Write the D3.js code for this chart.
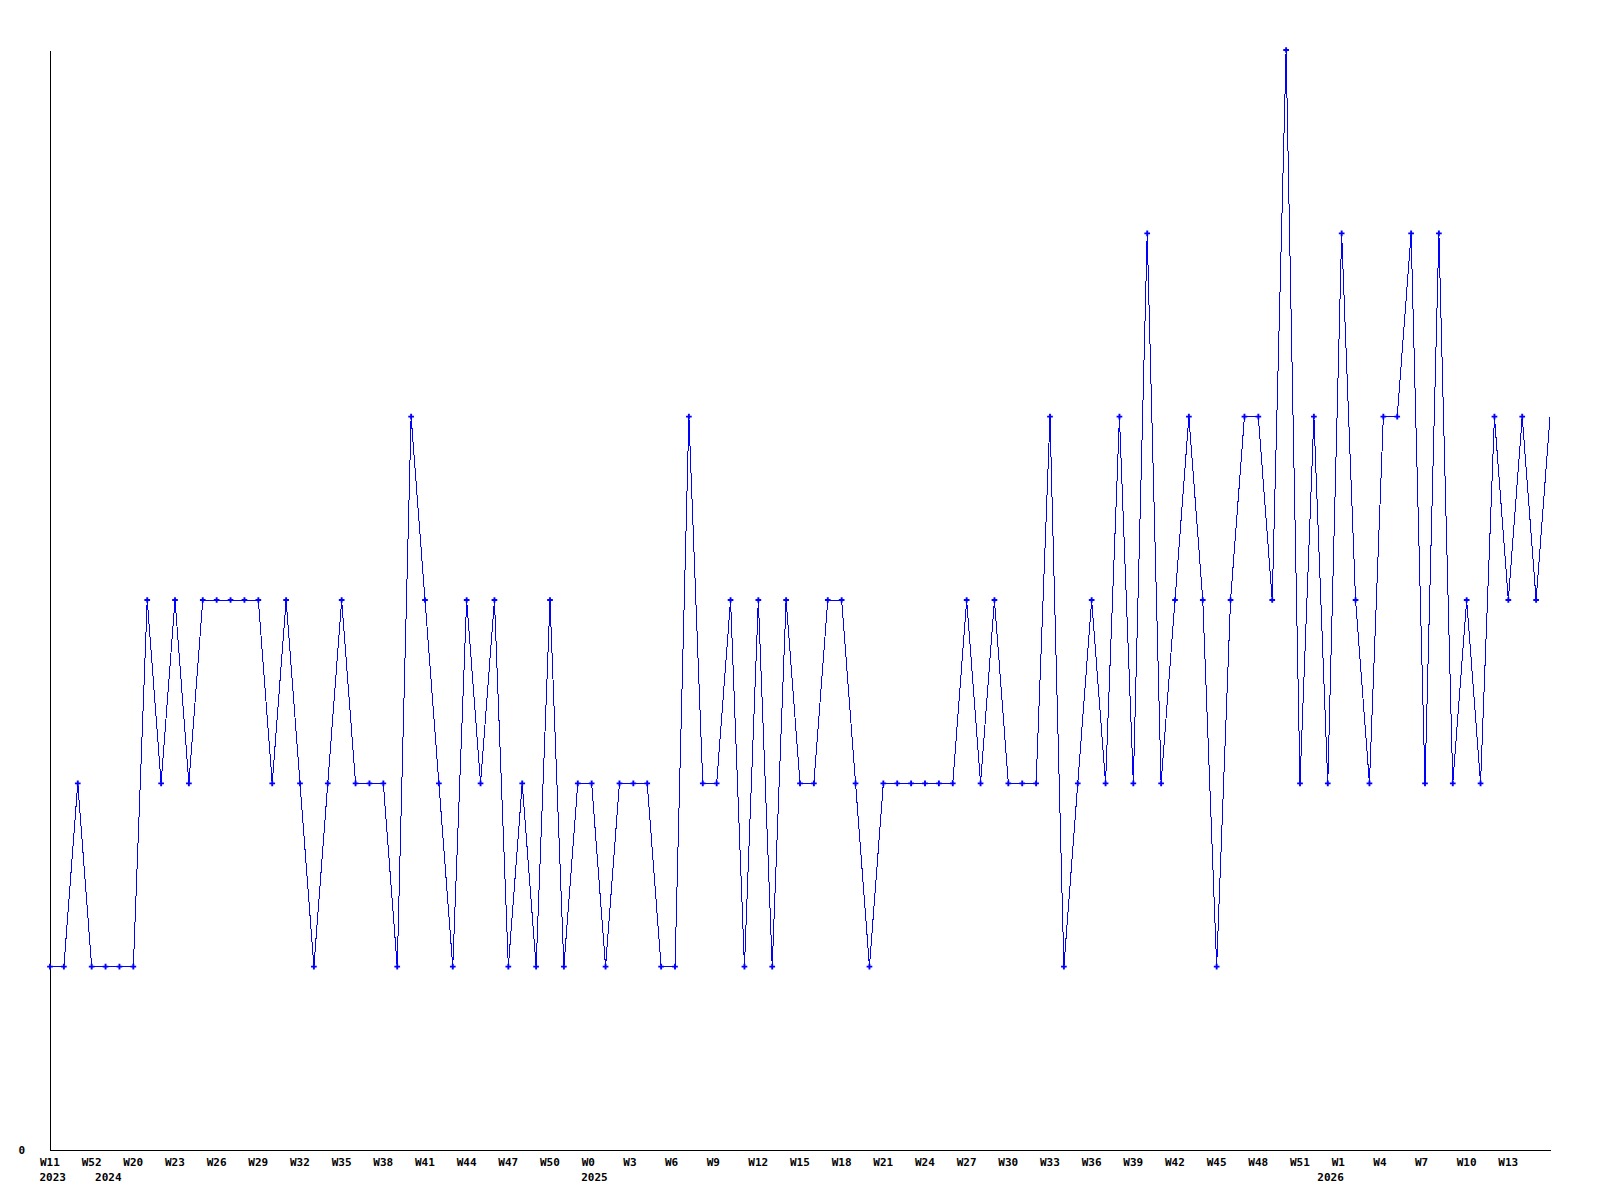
<!DOCTYPE html>
<html>
<head>
<meta charset="utf-8">
<script src="https://cdn.jsdelivr.net/npm/d3@7"></script>
<style>
  body { margin: 0; background: #fff; }
  text { font-family: "DejaVu Sans Mono", monospace; font-weight: bold; font-size: 11px; fill: #000; }
</style>
</head>
<body>
<div id="chart"></div>
<script>
// weekly counts, one per point (last point = current week, no marker)
var values = [
  1,1,2,1,1,1,1,3,2,3,2,3,3,3,3,3,2,3,2,
  1,2,3,2,2,2,1,4,3,2,1,3,2,3,1,2,1,3,
  1,2,2,1,2,2,2,1,1,4,2,2,3,1,3,1,3,2,
  2,3,3,2,1,2,2,2,2,2,2,3,2,3,2,2,2,4,
  1,2,3,2,4,2,5,2,3,4,3,1,3,4,4,3,6,2,
  4,2,5,3,2,4,4,5,2,5,2,3,2,4,3,4,3,4
];

// week labels, one every 3rd point
var weekLabels = ["W11","W52","W20","W23","W26","W29","W32","W35","W38","W41","W44","W47",
  "W50","W0","W3","W6","W9","W12","W15","W18","W21","W24","W27","W30","W33",
  "W36","W39","W42","W45","W48","W51","W1","W4","W7","W10","W13"];
var weekEvery = 3;

// year labels and the point index they sit under
var yearLabels = ["2023","2024","2025","2026"];
var yearIndex = [0, 4, 39, 92];

var yTicks = [0];
var yMax = 6;

var width = 1600, height = 1200;
var margin = {top: 50, right: 50, bottom: 50, left: 50};

var svg = d3.select("#chart").append("svg")
  .attr("width", width)
  .attr("height", height);

var x = d3.scaleLinear()
  .domain([0, values.length - 1])
  .range([margin.left, width - margin.right]);

var y = d3.scaleLinear()
  .domain([0, yMax])
  .range([height - margin.bottom, margin.top]);

// x axis (line + week labels)
var xAxis = svg.append("g")
  .attr("transform", `translate(0,${height - margin.bottom})`)
  .call(d3.axisBottom(x)
    .tickValues(weekLabels.map((d, i) => i * weekEvery))
    .tickFormat((d, i) => weekLabels[i])
    .tickSize(0)
    .tickSizeOuter(0)
    .tickPadding(0));

xAxis.select(".domain").attr("stroke", "#000").attr("shape-rendering", "crispEdges");
xAxis.selectAll(".tick text")
  .attr("text-anchor", "start")
  .attr("x", -10.5)
  .attr("y", 16)
  .attr("dy", null);
xAxis.attr("font-family", null).attr("font-size", null);

// year labels
svg.append("g").selectAll("text")
  .data(yearLabels)
  .join("text")
  .attr("x", (d, i) => x(yearIndex[i]) - 10.5)
  .attr("y", height - margin.bottom + 31)
  .text(d => d);

// y axis
var yAxis = svg.append("g")
  .attr("transform", `translate(${margin.left},0)`)
  .call(d3.axisLeft(y)
    .tickValues(yTicks)
    .tickFormat(d3.format("d"))
    .tickSize(0)
    .tickSizeOuter(0)
    .tickPadding(25));
yAxis.select(".domain").attr("stroke", "#000").attr("shape-rendering", "crispEdges");
yAxis.attr("font-family", null).attr("font-size", null);
yAxis.selectAll(".tick text").attr("dy", "0.35em");

// the line
var line = d3.line()
  .x((d, i) => x(i))
  .y(d => y(d));

svg.append("path")
  .datum(values)
  .attr("fill", "none")
  .attr("stroke", "#0000ff")
  .attr("stroke-width", 1)
  .attr("shape-rendering", "crispEdges")
  .attr("d", line);

// point markers
svg.append("g").selectAll("path")
  .data(values.slice(0, -1))
  .join("path")
  .attr("transform", (d, i) => `translate(${x(i)},${y(d)})`)
  .attr("d", d3.symbol(d3.symbolCross, 18))
  .attr("fill", "#0000ff");
</script>
</body>
</html>
